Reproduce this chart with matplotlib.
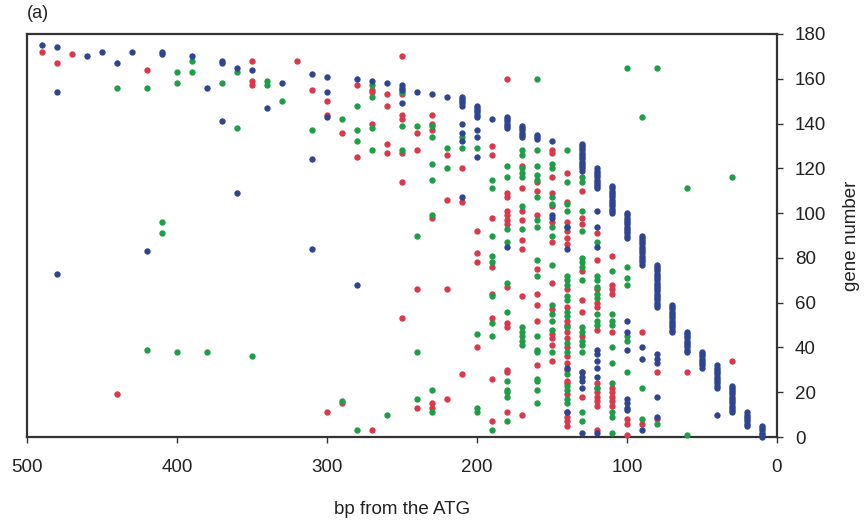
import matplotlib
matplotlib.use("Agg")
import matplotlib.pyplot as plt

plt.rcParams['font.family'] = ['Liberation Sans', 'DejaVu Sans']

# blue staircase: bp position, first gene, last gene (one point per gene)
run_bp = [210, 200, 180, 170, 160, 130, 120, 110, 100, 90, 80, 70, 60, 50, 40, 30, 20, 10]
run_lo = [148, 143, 138, 134, 133, 119, 111, 100, 89, 77, 58, 47, 38, 31, 22, 11, 5, 0]
run_hi = [152, 148, 143, 139, 135, 131, 120, 112, 100, 90, 77, 59, 47, 38, 32, 23, 11, 5]

# remaining points, keyed by bp from the ATG -> gene numbers
blue_pts = {
    490: [175], 480: [174, 154, 73], 460: [170], 450: [172], 440: [167],
    430: [172], 420: [83], 410: [172, 171], 390: [170], 380: [156],
    370: [168, 167, 141], 360: [165, 109], 350: [164], 340: [147], 330: [158],
    310: [162, 124, 84], 300: [161, 154, 143], 280: [160, 68], 270: [159],
    260: [158], 250: [157, 156, 155, 149], 240: [154], 230: [153], 220: [152],
    210: [140, 136, 132, 107], 200: [137, 134, 125], 190: [142], 180: [85],
    150: [132, 99, 98], 140: [94, 84, 31, 11],
    130: [29, 27, 25, 22, 2], 120: [101, 94, 85, 39, 37, 34, 31, 27, 2],
    100: [52, 47, 39, 17, 15, 13, 12], 90: [40, 35, 3], 80: [37, 35, 33, 18, 9],
    40: [10],
}

red_pts = {
    490: [172], 480: [167], 470: [171], 440: [19], 420: [164],
    350: [168, 159, 157], 320: [168], 310: [155], 300: [150, 144, 11],
    290: [136, 15], 280: [157, 125], 270: [155, 154, 140, 3],
    260: [153, 148, 131, 127], 250: [170, 153, 144, 142, 127, 114, 53],
    240: [136, 128, 66, 13], 230: [144, 140, 137, 98, 15, 13],
    220: [126, 106, 66, 17], 210: [120, 105, 28], 200: [92, 82, 78, 40],
    190: [130, 126, 98, 76, 64, 53, 26, 7],
    180: [160, 109, 107, 101, 99, 97, 95, 67, 51, 49, 30, 29, 11],
    170: [121, 111, 101, 97, 88, 84, 63, 10],
    160: [114, 110, 99, 75, 64, 59, 52, 32],
    150: [128, 127, 116, 109, 103, 96, 87, 69, 57, 46, 44, 41, 34],
    140: [118, 105, 96, 92, 89, 86, 66, 58, 52, 50, 47, 44, 40, 36, 33, 30,
          25, 24, 19, 11, 9, 7, 5],
    130: [110, 98, 95, 74, 61, 56, 45, 29, 18],
    120: [91, 79, 66, 60, 58, 48, 24, 22, 20, 18, 16, 14, 3],
    110: [81, 68, 66, 64, 47, 22, 20, 18, 16, 14],
    100: [8, 6, 1], 90: [47, 6], 80: [29, 8], 60: [29], 30: [34],
}

green_pts = {
    440: [156], 420: [156, 39], 410: [96, 91], 400: [163, 158, 38],
    390: [168, 163], 380: [38], 370: [158], 360: [163, 138], 350: [36],
    340: [159, 157], 330: [150], 310: [137], 290: [142, 16],
    280: [148, 137, 132, 3], 270: [157, 152, 138, 128], 260: [10],
    250: [154, 139, 128], 240: [139, 90, 38, 17],
    230: [139, 134, 122, 115, 99, 21, 11], 220: [129, 120], 210: [134, 129],
    200: [129, 46, 13, 11], 190: [115, 111, 90, 81, 78, 63, 51, 45, 3],
    180: [121, 116, 93, 87, 69, 56, 25, 21, 20, 18, 7],
    170: [128, 126, 120, 118, 116, 103, 93, 49, 47, 45, 43, 41],
    160: [160, 128, 121, 117, 115, 107, 97, 94, 79, 72, 45, 39, 38, 26, 25, 21, 15],
    150: [122, 120, 107, 104, 94, 90, 77, 59, 55, 52, 48, 38],
    140: [128, 114, 104, 101, 94, 72, 70, 68, 63, 61, 56, 54, 49, 42, 38, 28,
          23, 21, 17, 15],
    130: [116, 114, 101, 92, 80, 78, 76, 70, 49, 47, 43, 41, 38, 11, 7],
    120: [87, 72, 70, 67, 64, 62, 55, 52, 50, 22],
    110: [74, 55, 52, 50, 40, 33, 24, 11, 9, 2],
    100: [165, 76, 71, 68, 45, 43, 29], 90: [143, 22, 8], 80: [165, 6],
    60: [111, 1], 30: [116],
}


def flatten(pts):
    xs, ys = [], []
    for bp, genes in pts.items():
        for g in genes:
            xs.append(bp)
            ys.append(g)
    return xs, ys


bx, by = flatten(blue_pts)
for bp, lo, hi in zip(run_bp, run_lo, run_hi):
    for g in range(lo, hi + 1):
        bx.append(bp)
        by.append(g)
rx, ry = flatten(red_pts)
gx, gy = flatten(green_pts)

fig = plt.figure(figsize=(8.66, 5.24), dpi=100)
ax = fig.add_axes([27 / 866, 1 - 437 / 524, 750 / 866, 403 / 524])

ax.scatter(rx, ry, s=21, color='#d8394b', linewidths=0, clip_on=False, zorder=3)
ax.scatter(gx, gy, s=21, color='#1f9e47', linewidths=0, clip_on=False, zorder=3)
ax.scatter(bx, by, s=21, color='#2f4590', linewidths=0, clip_on=False, zorder=4)

ax.set_xlim(500, 0)
ax.set_ylim(0, 180)
ax.set_xticks([500, 400, 300, 200, 100, 0])
ax.set_yticks(range(0, 181, 20))

ax.yaxis.tick_right()
ax.yaxis.set_label_position('right')
ax.tick_params(axis='both', direction='out', length=4, width=1, color='#333333',
               labelsize=13.5, labelcolor='#222222')
ax.tick_params(axis='x', pad=12)
ax.tick_params(axis='y', pad=9)
for sp in ax.spines.values():
    sp.set_linewidth(1.6)
    sp.set_color('#333333')

ax.set_xlabel('bp from the ATG', fontsize=13.5, color='#222222', labelpad=18)
ax.set_ylabel('gene number', fontsize=13.5, color='#222222', labelpad=12)
fig.text(27 / 866, 1 - 14 / 524, '(a)', fontsize=13, color='#222222',
         ha='left', va='center')

fig.savefig('out.png', dpi=100)
